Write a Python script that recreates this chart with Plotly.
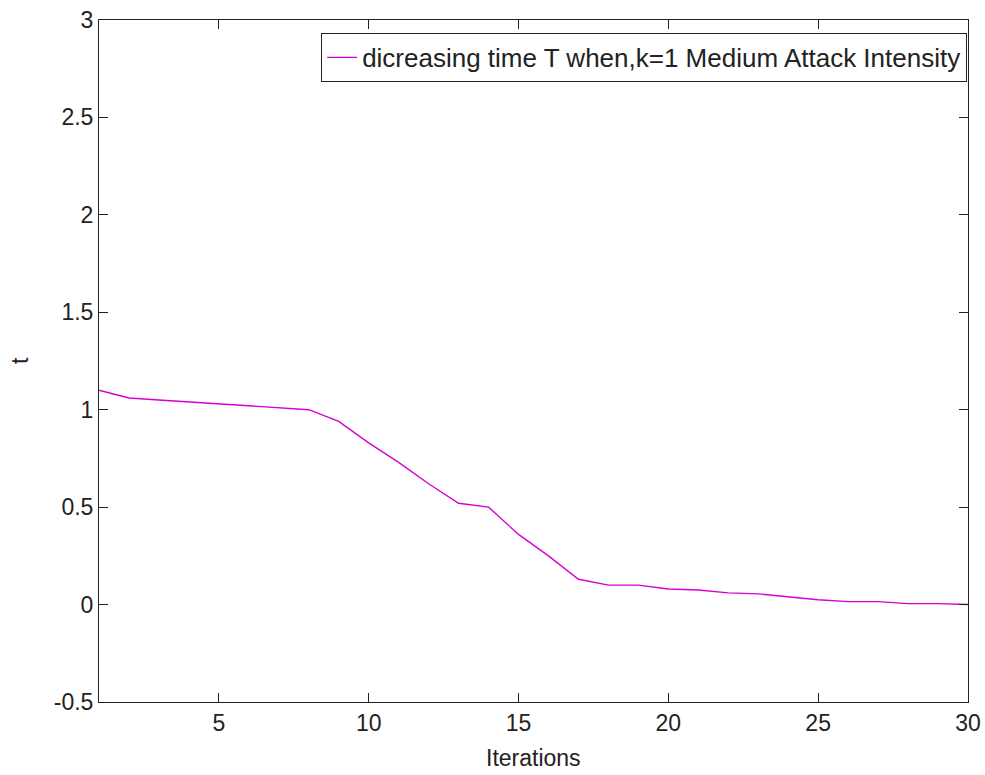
import plotly.graph_objects as go

iterations = list(range(1, 31))
t_values = [1.10, 1.06, 1.05, 1.04, 1.03, 1.02, 1.01, 1.00, 0.94, 0.83,
            0.73, 0.62, 0.52, 0.50, 0.36, 0.25, 0.13, 0.10, 0.10, 0.08,
            0.075, 0.06, 0.055, 0.04, 0.025, 0.015, 0.015, 0.005, 0.005, 0.0]
series_name = "dicreasing time T when,k=1 Medium Attack Intensity"
x_ticks = [5, 10, 15, 20, 25, 30]
x_tick_labels = ["5", "10", "15", "20", "25", "30"]
y_ticks = [-0.5, 0, 0.5, 1, 1.5, 2, 2.5, 3]
y_tick_labels = ["-0.5", "0", "0.5", "1", "1.5", "2", "2.5", "3"]

fig = go.Figure()
fig.add_trace(go.Scatter(x=iterations, y=t_values, mode="lines", name=series_name,
                         line=dict(color="#d400d4", width=1.4)))

FAM = "Liberation Sans, Arial, sans-serif"
font = dict(family=FAM, size=23, color="#222222")
axis_common = dict(showline=True, linecolor="#222222", linewidth=1, mirror="ticks",
                   ticks="inside", ticklen=9, tickcolor="#222222", showgrid=False,
                   zeroline=False, tickfont=font, automargin=False)

fig.update_layout(
    width=985, height=775,
    margin=dict(l=99, r=17, t=20, b=73),
    paper_bgcolor="white", plot_bgcolor="white",
    font=font,
    xaxis=dict(range=[1, 30], tickvals=x_ticks, ticktext=x_tick_labels, **axis_common),
    yaxis=dict(range=[-0.5, 3], tickvals=y_ticks, ticktext=y_tick_labels, **axis_common),
    legend=dict(x=0.999, y=0.981, xanchor="right", yanchor="top",
                bordercolor="#222222", borderwidth=1, bgcolor="white",
                font=dict(family=FAM, size=26, color="#222222")),
    showlegend=True,
)

fig.add_annotation(text="Iterations", xref="paper", yref="paper", x=0.5, y=0,
                   xanchor="center", yanchor="middle", yshift=-56, showarrow=False,
                   font=font)
fig.add_annotation(text="t", xref="paper", yref="paper", x=0, y=0.5,
                   xanchor="center", yanchor="middle", xshift=-79, textangle=-90,
                   showarrow=False, font=font)

fig.write_html("out.html")
